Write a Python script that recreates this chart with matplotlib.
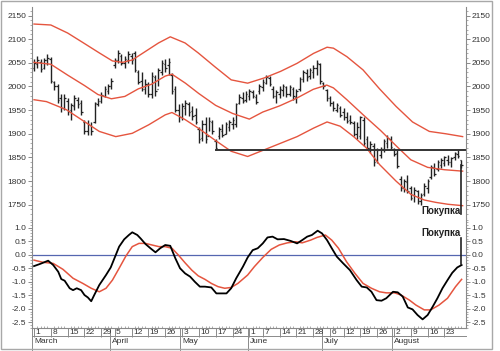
import matplotlib
matplotlib.use("Agg")
import matplotlib.pyplot as plt
import matplotlib.transforms as mtransforms
from matplotlib.patches import Rectangle
import numpy as np

plt.rcParams['font.family'] = ['Liberation Sans', 'DejaVu Sans']
plt.rcParams['axes.unicode_minus'] = False

# daily bars, trading day index 0 = 1 March
opens = [2040, 2048, 2052, 2040, 2055, 2058, 2010, 2000, 1975, 1955,
         1970, 1950, 1958, 1972, 1965, 1925, 1905, 1918, 1925, 1962,
         1970, 1980, 1990, 2000, 2045, 2055, 2065, 2050, 2055, 2065,
         2070, 2030, 2012, 1995, 2005, 1985, 2020, 1995, 2030, 2048,
         2045, 2025, 1995, 1950, 1935, 1955, 1962, 1948, 1940, 1910,
         1892, 1920, 1895, 1925, 1885, 1895, 1905, 1900, 1915, 1920,
         1920, 1965, 1975, 1972, 1980, 1988, 1978, 1990, 1998, 2008,
         2018, 1995, 1980, 1985, 1992, 1998, 1985, 1995, 1978, 1995,
         2015, 2028, 2022, 2030, 2040, 2048, 2008, 1992, 1975, 1965,
         1950, 1955, 1945, 1935, 1930, 1922, 1900, 1895, 1930, 1890,
         1870, 1875, 1845, 1855, 1868, 1880, 1890, 1868, 1860, 1805,
         1785, 1798, 1785, 1770, 1778, 1758, 1772, 1785, 1808, 1828,
         1825, 1835, 1838, 1845, 1840, 1850, 1858, 1845]
highs = [2058, 2065, 2058, 2060, 2068, 2062, 2012, 2005, 1985, 1985,
         1975, 1965, 1982, 1978, 1972, 1930, 1930, 1925, 1968, 1975,
         1988, 2000, 2005, 2018, 2060, 2078, 2068, 2065, 2075, 2070,
         2075, 2035, 2030, 2015, 2010, 2030, 2025, 2040, 2055, 2058,
         2060, 2028, 2000, 1962, 1965, 1972, 1968, 1958, 1955, 1915,
         1930, 1935, 1935, 1930, 1890, 1915, 1920, 1925, 1930, 1935,
         1965, 1985, 1988, 1990, 1995, 1992, 1985, 2005, 2015, 2025,
         2022, 2000, 1992, 2000, 2005, 2000, 2003, 1998, 1995, 2020,
         2035, 2038, 2040, 2045, 2056, 2050, 2010, 1995, 1980, 1970,
         1965, 1958, 1955, 1945, 1940, 1928, 1925, 1938, 1935, 1895,
         1885, 1880, 1870, 1872, 1890, 1898, 1895, 1870, 1865, 1810,
         1805, 1812, 1790, 1788, 1782, 1775, 1795, 1805, 1835, 1838,
         1845, 1848, 1852, 1855, 1850, 1862, 1865, 1845]
lows = [2033, 2040, 2030, 2038, 2045, 2008, 1992, 1965, 1945, 1950,
        1940, 1930, 1950, 1955, 1940, 1900, 1897, 1898, 1922, 1958,
        1965, 1978, 1985, 1995, 2040, 2050, 2045, 2040, 2050, 2048,
        2030, 2005, 1990, 1985, 1978, 1975, 1980, 2000, 2025, 2030,
        2025, 1985, 1945, 1925, 1930, 1940, 1938, 1930, 1920, 1880,
        1885, 1880, 1905, 1900, 1866, 1890, 1893, 1900, 1905, 1910,
        1915, 1962, 1965, 1968, 1972, 1975, 1962, 1985, 1990, 2005,
        2000, 1975, 1965, 1975, 1980, 1978, 1980, 1972, 1965, 1990,
        2010, 2012, 2015, 2018, 2025, 2005, 1995, 1970, 1958, 1948,
        1945, 1935, 1930, 1922, 1920, 1895, 1890, 1890, 1875, 1866,
        1860, 1832, 1838, 1848, 1862, 1870, 1868, 1852, 1828, 1780,
        1776, 1775, 1760, 1755, 1752, 1750, 1768, 1775, 1805, 1810,
        1822, 1828, 1832, 1835, 1830, 1845, 1848, 1828]
closes = [2050, 2055, 2038, 2055, 2060, 2012, 2000, 1972, 1955, 1975,
          1948, 1960, 1975, 1962, 1945, 1905, 1920, 1905, 1965, 1970,
          1982, 1995, 2000, 2012, 2055, 2070, 2050, 2058, 2068, 2055,
          2035, 2010, 1995, 2005, 1985, 2022, 1990, 2035, 2050, 2040,
          2052, 1990, 1950, 1935, 1958, 1965, 1945, 1938, 1925, 1890,
          1920, 1890, 1928, 1905, 1870, 1910, 1898, 1920, 1925, 1930,
          1962, 1978, 1970, 1985, 1990, 1980, 1968, 2000, 2010, 2020,
          2005, 1980, 1988, 1995, 2000, 1985, 1998, 1980, 1990, 2015,
          2030, 2020, 2035, 2040, 2050, 2012, 2000, 1975, 1965, 1955,
          1960, 1940, 1935, 1928, 1925, 1900, 1915, 1935, 1880, 1870,
          1878, 1840, 1865, 1868, 1885, 1892, 1872, 1858, 1832, 1785,
          1800, 1780, 1765, 1782, 1758, 1770, 1790, 1800, 1830, 1815,
          1840, 1845, 1850, 1840, 1848, 1860, 1852, 1835]

# envelope lines (moving average +/- band), read at sample days
up_x = [0, 5, 10, 14.5, 19.4, 23.3, 26.3, 29.2, 33.1, 37, 40.5, 44.9, 48.8, 53.7, 58.6,
        63.5, 68.4, 73.3, 78.2, 83.1, 87.1, 89, 93, 97.8, 102.7, 107.6, 112.5, 117.5, 122.4, 127.4]
up_y = [2132, 2130, 2113, 2093, 2071, 2054, 2051, 2056, 2074, 2092, 2105, 2092, 2071, 2042, 2014,
        2007, 2018, 2032, 2049, 2070, 2083, 2081, 2063, 2035, 1995, 1958, 1925, 1905, 1900, 1894]
mid_x = [0, 5, 10, 15, 19, 23, 27, 31, 35, 39, 41, 45, 49, 54, 59,
         64, 68, 73, 78, 83, 87, 89, 93, 98, 103, 108, 112, 117, 122, 127.4]
mid_y = [2051, 2047, 2024, 2002, 1983, 1974, 1979, 1995, 2005, 2022, 2026, 2007, 1985, 1960, 1943,
         1931, 1946, 1959, 1975, 1994, 2003, 1997, 1972, 1939, 1907, 1872, 1845, 1829, 1824, 1821]
lo_x = [0, 3.7, 9.6, 14.5, 19.4, 24.3, 29.2, 34.1, 39, 41, 44.9, 48.8, 53.7, 58.6, 63.5,
        68.4, 73.3, 78.2, 83.1, 87.1, 91, 95, 98.8, 102.7, 107.6, 112, 116, 119.4, 123, 127.4]
lo_y = [1972, 1968, 1951, 1928, 1905, 1894, 1901, 1919, 1940, 1945, 1930, 1912, 1887, 1863, 1852,
        1866, 1880, 1894, 1912, 1925, 1916, 1894, 1870, 1835, 1800, 1772, 1760, 1755, 1751, 1748]

# oscillator
osc_x = [0, 1.8, 4.2, 5.7, 7.2, 8.1, 9.1, 10.6, 11.6, 12.7, 14, 15, 16, 17, 17.9, 19.4, 21.4,
         22.8, 24.3, 25.3, 26.8, 28.2, 29.2, 30.7, 31.7, 33.1, 34.6, 36.1, 37.5, 39, 40.5, 42,
         43.4, 44.9, 46.4, 47.8, 49.3, 50.8, 52.7, 54.2, 55.7, 57.2, 58.6, 60.1, 62.1, 63.5,
         65, 66.5, 68, 69.4, 70.9, 72.4, 74.3, 76.3, 78.2, 79.7, 81.2, 82.6, 84.3, 85.6, 87.1,
         88.5, 90, 91.9, 93.9, 95.9, 97.4, 98.9, 100.3, 101.8, 103.3, 104.7, 106.7, 108.1,
         109.6, 111.1, 112.5, 114, 115.5, 117, 118.5, 119.9, 121.4, 122.9, 124.3, 125.8, 127.1]
osc_y = [-0.42, -0.34, -0.22, -0.38, -0.63, -0.90, -0.96, -1.24, -1.31, -1.24, -1.31, -1.49,
         -1.58, -1.72, -1.49, -1.12, -0.75, -0.47, -0.01, 0.30, 0.57, 0.73, 0.83, 0.73, 0.60,
         0.40, 0.24, 0.09, 0.24, 0.36, 0.33, -0.13, -0.50, -0.69, -0.81, -1.00, -1.18, -1.18,
         -1.21, -1.43, -1.43, -1.43, -1.24, -0.87, -0.44, -0.10,
         0.17, 0.24, 0.42, 0.64, 0.67, 0.57, 0.58, 0.51, 0.42, 0.54, 0.67, 0.73, 0.89, 0.79,
         0.54, 0.24, -0.07, -0.32, -0.57, -0.94, -1.18, -1.21, -1.37, -1.68, -1.70, -1.61,
         -1.37, -1.39, -1.55, -1.95, -2.02, -2.23, -2.39, -2.23, -1.92, -1.61, -1.24, -0.94,
         -0.67, -0.47, -0.38]
sig_x = [0, 2.7, 5.7, 8.6, 11.6, 14.5, 17, 19.4, 21.4, 23.3, 25.3, 27.3, 29.2, 31.2, 33.1,
         35.1, 37.1, 39, 41, 42.9, 44.9, 46.9, 48.8, 50.8, 52.7, 54.7, 56.7, 58.6, 60.6, 63.5,
         65.5, 68, 70.5, 72.9, 75.3, 77.8, 79.7, 82.2, 84.1, 86.6, 88.5, 90.5, 92.9, 95.4,
         97.8, 100.3, 102.7, 104.7, 107.2, 109.1, 111.6, 113.5, 116, 117.9, 120.4, 122.9,
         125.3, 127.1]
sig_y = [-0.20, -0.28, -0.32, -0.54, -0.87, -1.06, -1.24, -1.37, -1.24, -0.94, -0.50, -0.05,
         0.30, 0.42, 0.42, 0.36, 0.30, 0.30, 0.24, -0.01, -0.30, -0.57, -0.78, -0.91, -1.06,
         -1.18, -1.24, -1.21, -1.06, -0.75,
         -0.44, -0.10, 0.20, 0.36, 0.44, 0.48, 0.44, 0.54, 0.64, 0.73, 0.54, 0.24, -0.26,
         -0.69, -1.06, -1.24, -1.37, -1.41, -1.41, -1.49, -1.68, -1.86, -2.04, -2.04, -1.86,
         -1.61, -1.18, -0.91]

level = 1866
level_start = 54

week_idx = [0, 5, 10, 15, 20, 24, 29, 34, 39, 44, 49, 54, 59,
            64, 68, 73, 78, 83, 88, 92, 97, 102, 107, 112, 117, 122]
week_lbl = ["1", "8", "15", "22", "29", "5", "12", "19", "26", "3", "10", "17", "24",
            "1", "7", "14", "21", "28", "6", "12", "19", "26", "2", "9", "16", "23"]
month_idx = [0, 23, 44, 64, 86, 107]
month_lbl = ["March", "April", "May", "June", "July", "August"]

red = '#e5553f'
spine_c = '#8a8a8a'
txt_c = '#333333'
bar_c = '#222222'

fig = plt.figure(figsize=(5.0, 3.51), dpi=100)
ax1 = fig.add_axes([0.064, 0.379, 0.868, 0.601])
ax2 = fig.add_axes([0.064, 0.0655, 0.868, 0.3135], sharex=ax1)

n = len(closes)
xs = np.arange(n)
ax1.vlines(xs, lows, highs, color=bar_c, lw=1.0)
ax1.hlines(opens, xs - 0.45, xs, color=bar_c, lw=0.9)
ax1.hlines(closes, xs, xs + 0.45, color=bar_c, lw=0.9)

ax1.plot(up_x, up_y, color=red, lw=1.0)
ax1.plot(mid_x, mid_y, color=red, lw=1.0)
ax1.plot(lo_x, lo_y, color=red, lw=1.0)
ax1.plot([level_start, n + 0.4], [level, level], color='#333333', lw=1.4)
ax1.plot([n - 1, n - 1], [closes[-1], 1730], color=bar_c, lw=1.2)
ax1.text(n - 1.3, 1736, "Покупка", ha='right', va='center', fontsize=7,
         fontweight='bold', color='#222222')

ax2.axhline(0, color='#5566b0', lw=0.9)
ax2.plot(sig_x, sig_y, color=red, lw=1.1)
ax2.plot(osc_x, osc_y, color='black', lw=1.3)
ax2.plot([n - 1, n - 1], [-0.35, 0.62], color=bar_c, lw=1.2)
ax2.text(n - 1.3, 0.80, "Покупка", ha='right', va='center', fontsize=7,
         fontweight='bold', color='#222222')

ax1.set_xlim(-0.6, n + 0.4)
ax1.set_ylim(1722, 2168)
ax2.set_ylim(-2.71, 1.36)

ax1.set_yticks(np.arange(1750, 2151, 50))
ax1.set_yticks(np.arange(1730, 2168, 10), minor=True)
ax2.set_yticks(np.arange(-2.5, 1.01, 0.5))
ax2.set_yticks(np.arange(-2.7, 1.35, 0.1), minor=True)
ax2.set_yticklabels(["%.1f" % v for v in np.arange(-2.5, 1.01, 0.5)])

for ax in (ax1, ax2):
    for s in ax.spines.values():
        s.set_color(spine_c)
        s.set_linewidth(0.8)
    ax.spines['top'].set_visible(False)
    ax.tick_params(axis='y', which='both', left=True, right=True, labelleft=True,
                   labelright=True, direction='out', colors=spine_c,
                   labelcolor=txt_c, labelsize=6, pad=1)
    ax.tick_params(axis='y', which='major', length=3, width=0.7)
    ax.tick_params(axis='y', which='minor', length=1.5, width=0.5)
ax1.spines['bottom'].set_visible(False)
ax1.tick_params(axis='x', which='both', bottom=False, labelbottom=False)

ax2.set_xticks(week_idx)
ax2.set_xticklabels([])
ax2.set_xticks(xs, minor=True)
ax2.tick_params(axis='x', which='major', direction='out', length=6.5, width=0.7,
                colors=spine_c)
ax2.tick_params(axis='x', which='minor', direction='in', length=1.5, width=0.5,
                colors=spine_c)

trans = mtransforms.blended_transform_factory(ax2.transData, ax2.transAxes)
for i, lbl in zip(week_idx, week_lbl):
    ax2.text(i + 0.4, -0.038, lbl, transform=trans, ha='left', va='center',
             fontsize=6, color=txt_c, clip_on=False)
for i, lbl in zip(month_idx, month_lbl):
    ax2.plot([i - 0.5, i - 0.5], [0, -0.2], transform=trans, color=spine_c,
             lw=0.7, clip_on=False)
    ax2.text(i + 0.1, -0.125, lbl, transform=trans, ha='left', va='center',
             fontsize=6, color=txt_c, clip_on=False)
ax2.plot([-0.6, n + 0.4], [-0.077, -0.077], transform=trans, color=spine_c,
         lw=0.7, clip_on=False)

fig.patches.append(Rectangle((0.002, 0.006), 0.982, 0.99, transform=fig.transFigure,
                             fill=False, edgecolor='#a8a8a8', lw=1.0))

fig.savefig("out.png", dpi=100)
